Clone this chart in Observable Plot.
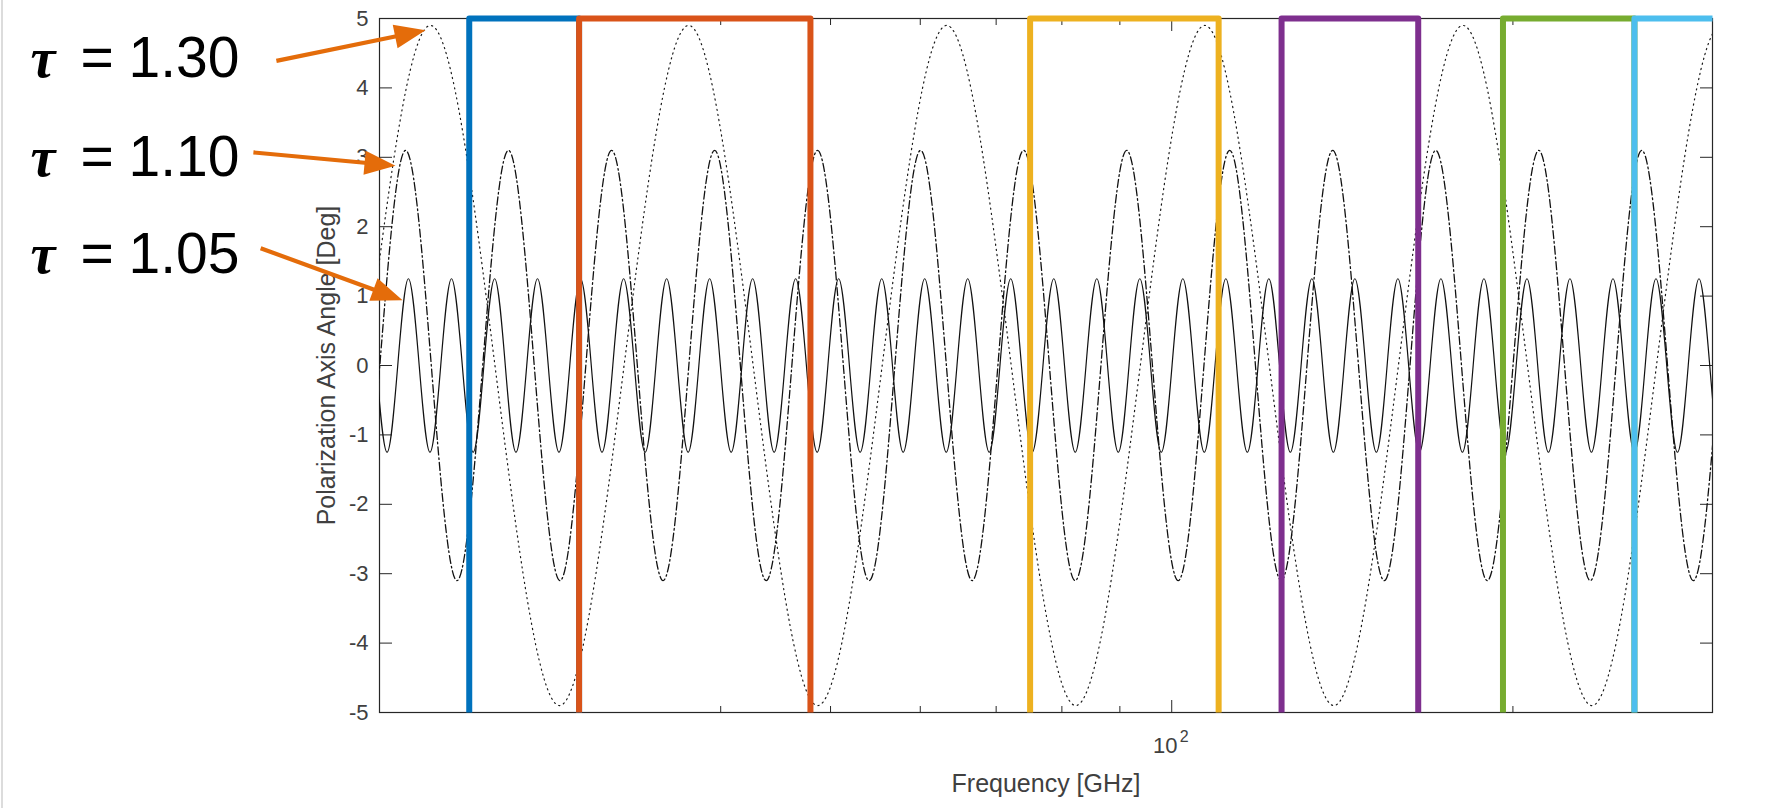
<!DOCTYPE html>
<html>
<head>
<meta charset="utf-8">
<script src="https://cdn.jsdelivr.net/npm/d3@7"></script>
<script src="https://cdn.jsdelivr.net/npm/@observablehq/plot@0.6"></script>
<style>
  html, body { margin: 0; padding: 0; background: #fff; }
  #chart { position: relative; }
  #edge { position: absolute; left: 1px; top: 0; width: 2px; height: 808px; background: #dcdcdc; }
</style>
</head>
<body>
<div id="chart"></div>
<div id="edge"></div>
<script>
// ---------- axes ----------
const xDomain = [20, 300];
const yDomain = [-5, 5];
const yTicks = [-5, -4, -3, -2, -1, 0, 1, 2, 3, 4, 5];
const xMinorTicks = [30, 40, 50, 60, 70, 80, 90, 200];
const xMajorTicks = [100];
const xMajorBase = ["10"];
const xMajorExp = ["2"];
const xLabel = "Frequency [GHz]";
const yLabel = "Polarization Axis Angle [Deg]";

// ---------- frequency bands (GHz) ----------
const bandLo = [24, 30, 75, 125, 196, 256];
const bandHi = [30, 48, 110, 165, 256, 300];
const bandColors = ["#0072BD", "#D95319", "#EDB120", "#7E2F8E", "#77AC30", "#4DBEEE"];

// ---------- curves: extremum frequencies (GHz) ----------
const tau130Amp = 4.9;
const tau130Peaks = [13.13, 22.18, 37.48, 63.31, 106.96, 180.70, 305.2];
const tau130Troughs = [17.07, 28.83, 48.71, 82.29, 139.02, 234.86, 396.7];

const tau110Amp = 3.1;
const tau110Peaks = [17.10, 21.09, 25.99, 32.05, 39.51, 48.70, 60.04, 74.02, 91.26, 112.50, 138.69, 170.98, 210.79, 259.86, 320.4];
const tau110Troughs = [18.99, 23.41, 28.86, 35.58, 43.87, 54.08, 66.67, 82.19, 101.32, 124.91, 153.99, 189.84, 234.04, 288.53, 355.7];

const tau105Amp = 1.25;
const tau105Peaks = [19.44, 21.21, 23.15, 25.27, 27.57, 30.09, 32.84, 35.84, 39.11, 42.68, 46.58, 50.83, 55.48, 60.54, 66.07, 72.10, 78.69, 85.88, 93.72, 102.28, 111.62, 121.81, 132.93, 145.07, 158.32, 172.78, 188.56, 205.78, 224.57, 245.08, 267.46, 291.88, 318.5];
const tau105Troughs = [18.61, 20.31, 22.16, 24.19, 26.39, 28.80, 31.43, 34.31, 37.44, 40.86, 44.59, 48.66, 53.10, 57.95, 63.25, 69.02, 75.32, 82.20, 89.71, 97.90, 106.84, 116.60, 127.25, 138.87, 151.55, 165.39, 180.50, 196.98, 214.97, 234.60, 256.02, 279.40, 304.9];

// ---------- annotations ----------
const tauSymbol = "τ";
const tauEquals = "=";
const tauNames = ["1.30", "1.10", "1.05"];
const tauLabelValue = [4.42, 2.99, 1.59];
const arrowTailFreq = [16.22, 15.48, 15.71];
const arrowTailValue = [4.39, 3.07, 1.69];
const arrowTipFreq = [21.96, 20.66, 20.96];
const arrowTipValue = [4.83, 2.88, 0.94];

// ---------- tables ----------
function extremes(peaks, troughs, amp) {
  return [
    ...peaks.map(f => ({freq: f, value: amp})),
    ...troughs.map(f => ({freq: f, value: -amp}))
  ].sort((a, b) => a.freq - b.freq);
}
const tau130 = extremes(tau130Peaks, tau130Troughs, tau130Amp);
const tau110 = extremes(tau110Peaks, tau110Troughs, tau110Amp);
const tau105 = extremes(tau105Peaks, tau105Troughs, tau105Amp);

const bandPts = bandLo.flatMap((lo, i) => {
  const hi = bandHi[i];
  const pts = [
    {band: i, freq: lo, value: yDomain[0]},
    {band: i, freq: lo, value: yDomain[1]},
    {band: i, freq: hi, value: yDomain[1]}
  ];
  if (hi < xDomain[1]) pts.push({band: i, freq: hi, value: yDomain[0]});
  return pts;
});

const arrows = tauNames.map((n, i) => ({
  x1: arrowTailFreq[i], y1: arrowTailValue[i], x2: arrowTipFreq[i], y2: arrowTipValue[i]
}));
const labels = tauNames.map((n, i) => ({name: n, value: tauLabelValue[i]}));

const axisColor = "#262626";
const textColor = "#404040";
const arrowColor = "#E46C0A";

// filled arrow (shaft + triangular head) drawn along the vector
const shaftW = 4.2, headLen = 31, headW = 24;
const arrowShape = {
  draw(context, l) {
    const hw = shaftW / 2, hh = headW / 2, b = -(l - headLen);
    context.moveTo(-hw, 0);
    context.lineTo(-hw, b);
    context.lineTo(-hh, b);
    context.lineTo(0, -l);
    context.lineTo(hh, b);
    context.lineTo(hw, b);
    context.lineTo(hw, 0);
    context.closePath();
  }
};

const baseOptions = {
  width: 1774,
  height: 808,
  marginLeft: 379,
  marginRight: 62,
  marginTop: 18,
  marginBottom: 96,
  x: {type: "log", domain: xDomain, label: null},
  y: {domain: yDomain, label: null},
  color: {type: "identity"},
  style: {
    fontFamily: "'Liberation Sans', Arial, Helvetica, sans-serif",
    fontSize: "22px",
    background: "#fff",
    color: axisColor,
    overflow: "visible"
  }
};

function baseMarks() {
  return [
    Plot.frame({stroke: axisColor, strokeWidth: 1.2}),
    Plot.axisY({anchor: "left", ticks: yTicks, tickSize: -13, tickPadding: 24,
      tickFormat: d => String(d), fontSize: 22, fill: textColor, label: null}),
    Plot.axisY({anchor: "right", ticks: yTicks, tickSize: -13, tickFormat: () => "", label: null}),
    Plot.axisX({anchor: "bottom", ticks: xMinorTicks, tickSize: -6, tickFormat: () => "", label: null}),
    Plot.axisX({anchor: "bottom", ticks: xMajorTicks, tickSize: -12, tickFormat: () => "", label: null}),
    Plot.axisX({anchor: "top", ticks: xMinorTicks, tickSize: -6, tickFormat: () => "", label: null}),
    Plot.axisX({anchor: "top", ticks: xMajorTicks, tickSize: -12, tickFormat: () => "", label: null}),
    Plot.text(xMajorTicks, {x: d => d, text: (d, i) => xMajorBase[i], frameAnchor: "bottom",
      textAnchor: "middle", lineAnchor: "top", dx: -6.5, dy: 24.4, fontSize: 22, fill: textColor}),
    Plot.text(xMajorTicks, {x: d => d, text: (d, i) => xMajorExp[i], frameAnchor: "bottom",
      textAnchor: "middle", lineAnchor: "top", dx: 12.5, dy: 18, fontSize: 16, fill: textColor}),
    Plot.text([xLabel], {text: d => d, frameAnchor: "bottom", textAnchor: "middle",
      lineAnchor: "middle", dy: 71, fontSize: 25, fill: textColor}),
    Plot.text([yLabel], {text: d => d, frameAnchor: "left", textAnchor: "middle",
      lineAnchor: "middle", rotate: -90, dx: -53, fontSize: 25, fill: textColor}),
    Plot.line(tau130, {x: "freq", y: "value", curve: "monotone-x", clip: true,
      stroke: "#1a1a1a", strokeWidth: 1.2, strokeDasharray: "1.2,4"}),
    Plot.line(tau110, {x: "freq", y: "value", curve: "monotone-x", clip: true,
      stroke: "#111", strokeWidth: 1.3, strokeDasharray: "8,3,1.6,3"}),
    Plot.line(tau105, {x: "freq", y: "value", curve: "monotone-x", clip: true,
      stroke: "#111", strokeWidth: 1.2}),
    Plot.line(bandPts, {x: "freq", y: "value", z: "band", stroke: d => bandColors[d.band],
      strokeWidth: 6, strokeLinejoin: "round", strokeLinecap: "butt"}),
    Plot.text(labels, {y: "value", text: () => tauSymbol, frameAnchor: "left", dx: -349,
      textAnchor: "start", lineAnchor: "middle", fontSize: 56, fontWeight: "bold", fontStyle: "italic",
      fontFamily: "'Liberation Serif', 'DejaVu Serif', serif", fill: "#000"}),
    Plot.text(labels, {y: "value", text: () => tauEquals, frameAnchor: "left", dx: -299,
      textAnchor: "start", lineAnchor: "middle", fontSize: 57, fill: "#000"}),
    Plot.text(labels, {y: "value", text: "name", frameAnchor: "left", dx: -251,
      textAnchor: "start", lineAnchor: "middle", fontSize: 57, fill: "#000"})
  ];
}

// first pass: obtain the scales, then orient the arrows in screen space
const probe = Plot.plot({...baseOptions, marks: baseMarks()});
const sx = probe.scale("x"), sy = probe.scale("y");

let chart;
try {
  const arrowMarks = arrows.map(a => {
    const X1 = sx.apply(a.x1), Y1 = sy.apply(a.y1);
    const X2 = sx.apply(a.x2), Y2 = sy.apply(a.y2);
    const len = Math.hypot(X2 - X1, Y2 - Y1);
    const ang = Math.atan2(X2 - X1, -(Y2 - Y1)) * 180 / Math.PI;
    return Plot.vector([a], {x: "x1", y: "y1", length: len, rotate: ang, anchor: "start",
      shape: arrowShape, fill: arrowColor, stroke: "none"});
  });
  chart = Plot.plot({...baseOptions, marks: [...baseMarks(), ...arrowMarks]});
} catch (e) {
  chart = Plot.plot({...baseOptions, marks: [...baseMarks(),
    Plot.arrow(arrows, {x1: "x1", y1: "y1", x2: "x2", y2: "y2", stroke: arrowColor,
      strokeWidth: 3.5, headLength: 26})]});
}
document.getElementById("chart").appendChild(chart);
</script>
</body>
</html>
